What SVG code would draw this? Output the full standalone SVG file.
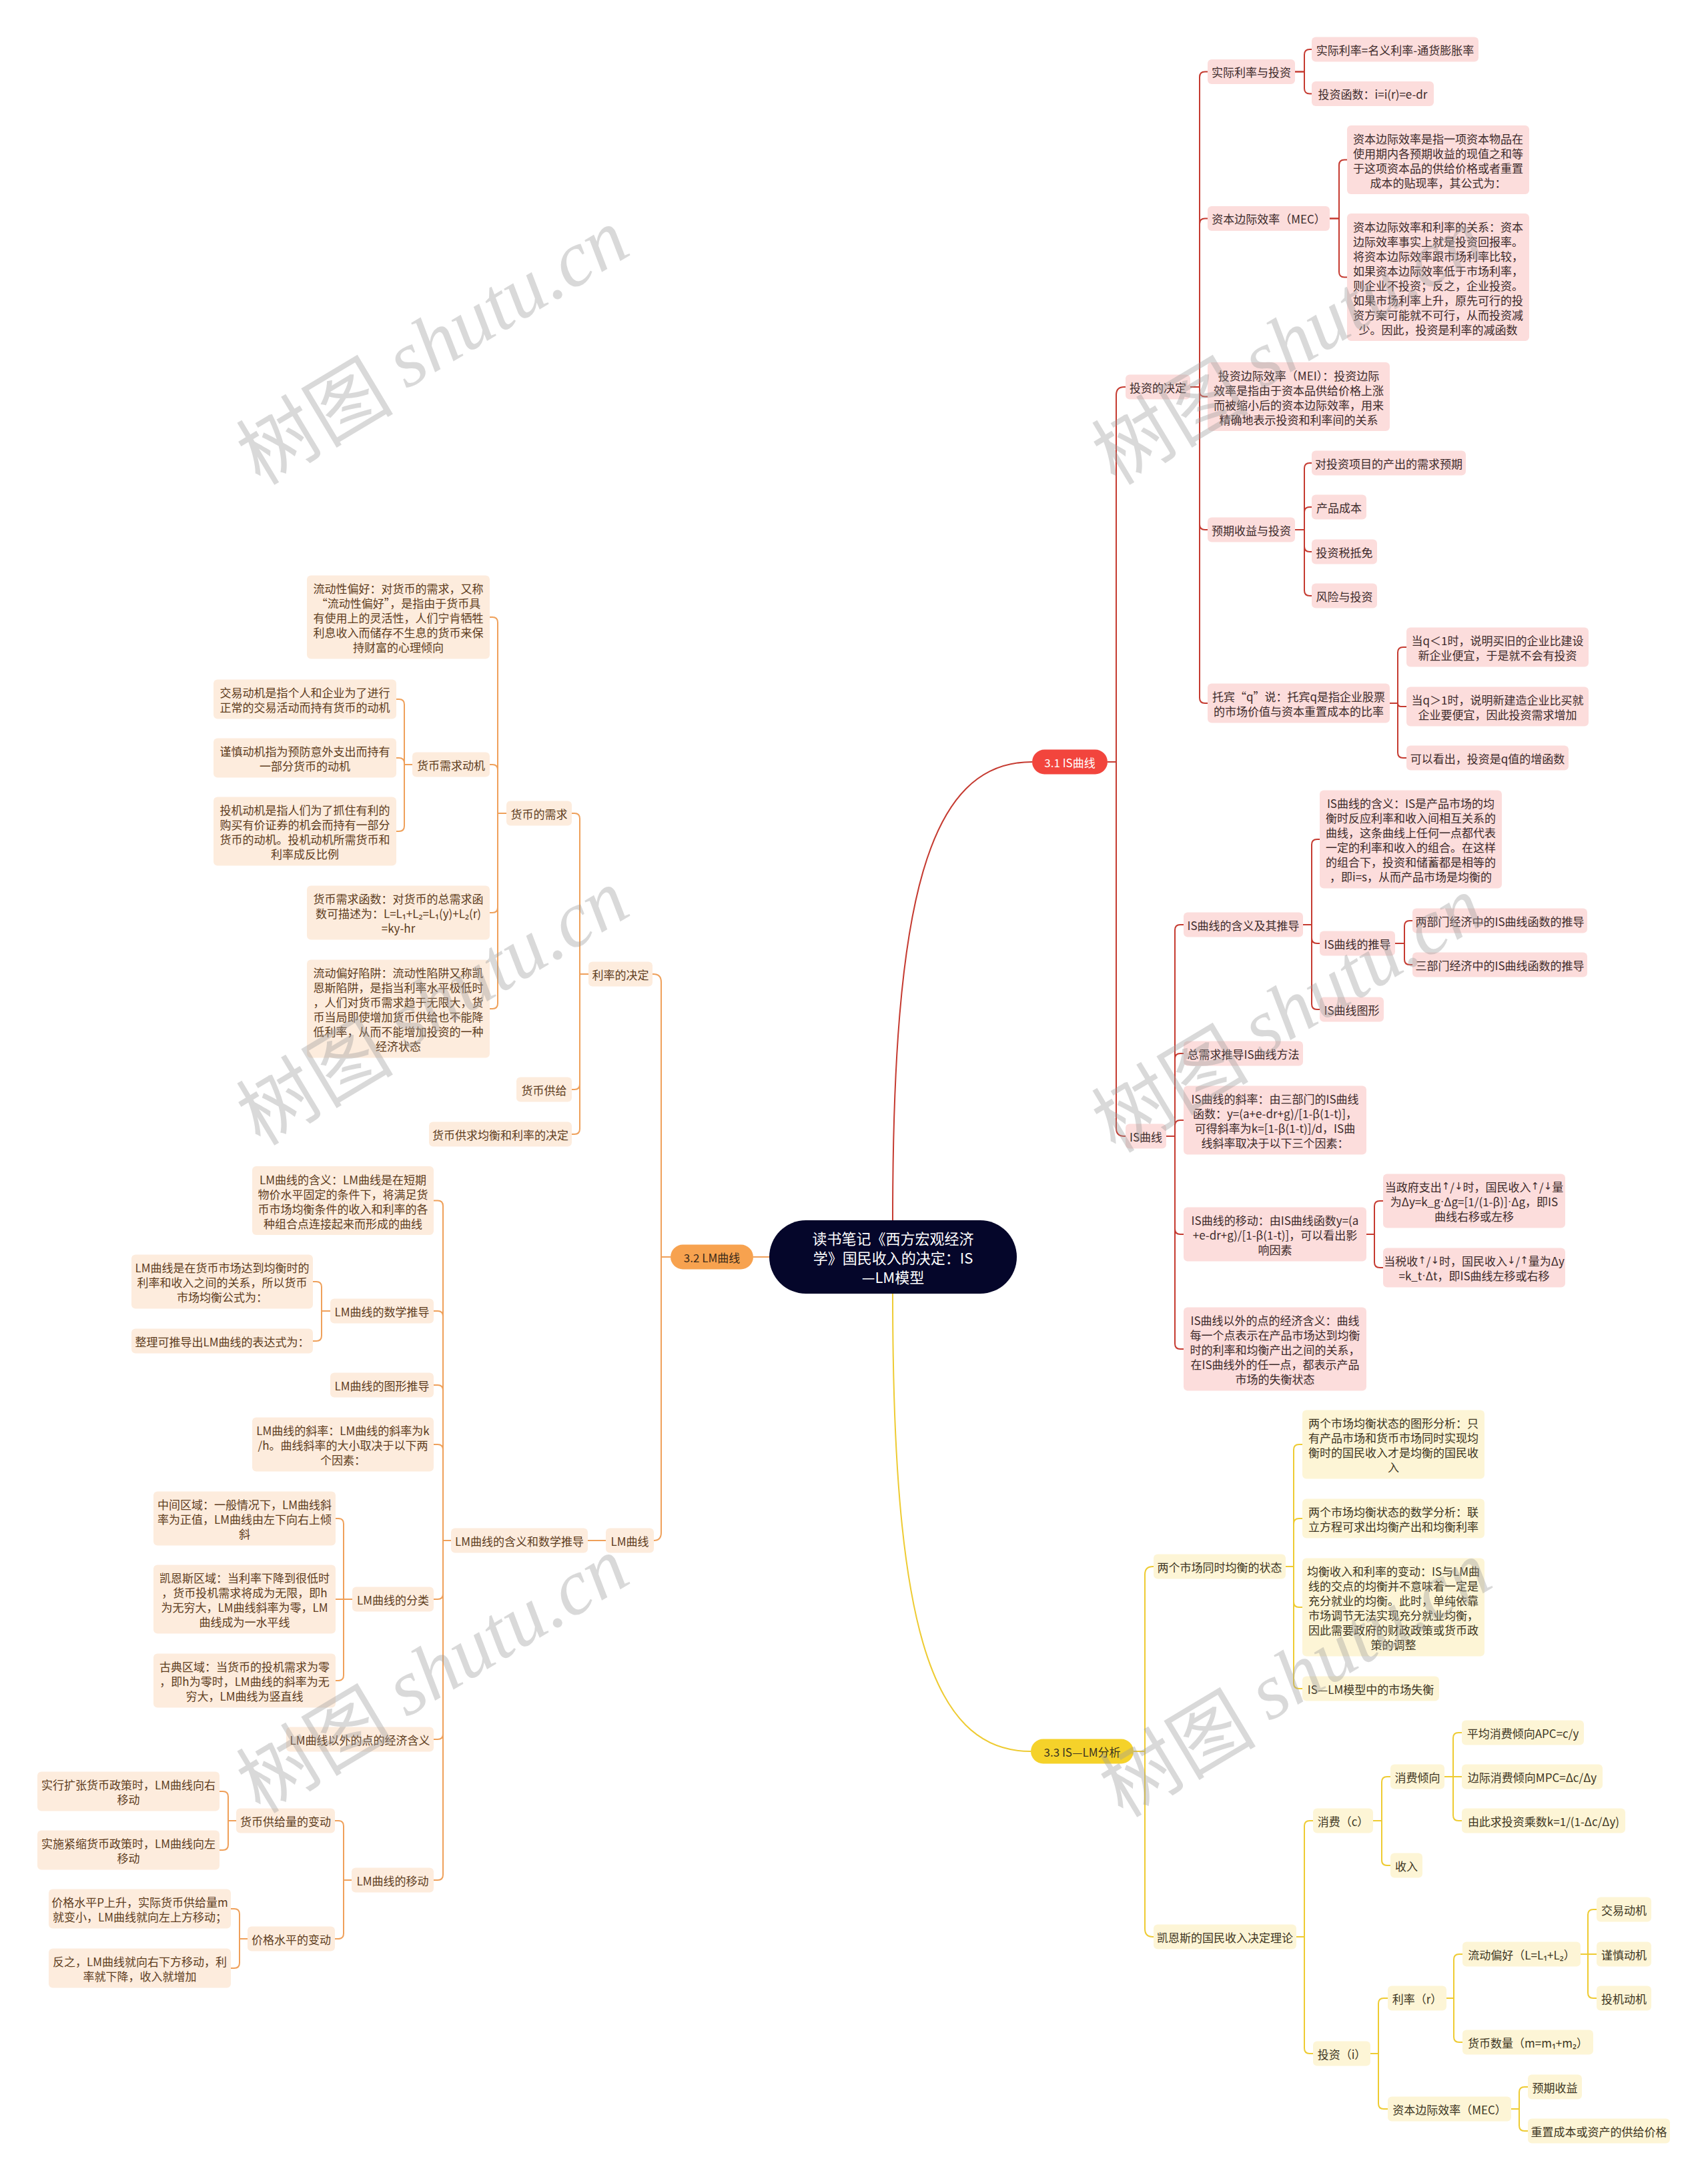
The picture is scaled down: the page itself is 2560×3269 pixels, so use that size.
<svg xmlns="http://www.w3.org/2000/svg" width="2560" height="3269" viewBox="0 0 2560 3269">
<style>
text{font-family:"Noto Sans CJK SC","Noto Sans",sans-serif;font-size:17px;dominant-baseline:central;text-anchor:middle}
.n{font-family:"Liberation Sans",sans-serif}
.a{font-family:"DejaVu Sans",sans-serif;font-size:15px}
.r rect{fill:#fcdddc}
.r text{fill:#3d2b2b}
.o rect{fill:#fdecdd}
.o text{fill:#5e3d1d}
.y rect{fill:#fdf5d6}
.y text{fill:#3d3522}
.lr{fill:none;stroke:#c53a30;stroke-width:2}
.lo{fill:none;stroke:#efa05a;stroke-width:2}
.ly{fill:none;stroke:#eecb32;stroke-width:2}
.wm{fill:#9a9a9a;fill-opacity:0.38;font-size:118px}
</style>
<rect width="2560" height="3269" fill="#ffffff"/>
<g id="connectors">
<g class="lr">
<path d="M1338 1829 C1338 1350 1390 1142 1547 1142"/>
<path d="M1660 1142 H1673 V592 Q1673 580 1685 580 H1687"/>
<path d="M1660 1142 H1673 V1691 Q1673 1703 1685 1703 H1687"/>
<path d="M1784 580 H1798 V115.5 Q1798 107.5 1806 107.5 H1810"/>
<path d="M1784 580 H1798 V335.5 Q1798 327.5 1806 327.5 H1810"/>
<path d="M1784 580 H1798 V586.5 Q1798 594.5 1806 594.5 H1810"/>
<path d="M1784 580 H1798 V786 Q1798 794 1806 794 H1810"/>
<path d="M1784 580 H1798 V1046 Q1798 1054 1806 1054 H1810"/>
<path d="M1941 107.5 H1955 V82 Q1955 74 1963 74 H1966"/>
<path d="M1941 107.5 H1955 V132.5 Q1955 140.5 1963 140.5 H1966"/>
<path d="M1993 327.5 H2007 V247.5 Q2007 239.5 2015 239.5 H2019"/>
<path d="M1993 327.5 H2007 V407.5 Q2007 415.5 2015 415.5 H2019"/>
<path d="M1941 794 H1955 V702 Q1955 694 1963 694 H1966"/>
<path d="M1941 794 H1955 V768 Q1955 760 1963 760 H1966"/>
<path d="M1941 794 H1955 V819 Q1955 827 1963 827 H1966"/>
<path d="M1941 794 H1955 V885 Q1955 893 1963 893 H1966"/>
<path d="M2083 1054 H2095 V978 Q2095 970 2103 970 H2108"/>
<path d="M2083 1054 H2095 Q2095 1059 2100 1059 H2108"/>
<path d="M2083 1054 H2095 V1128 Q2095 1136 2103 1136 H2108"/>
<path d="M1748 1703 H1761 V1394 Q1761 1386 1769 1386 H1774"/>
<path d="M1748 1703 H1761 V1587 Q1761 1579 1769 1579 H1774"/>
<path d="M1748 1703 H1761 V1687 Q1761 1679 1769 1679 H1774"/>
<path d="M1748 1703 H1761 V1842 Q1761 1850 1769 1850 H1774"/>
<path d="M1748 1703 H1761 V2014 Q1761 2022 1769 2022 H1774"/>
<path d="M1953 1386 H1966 V1266 Q1966 1258 1974 1258 H1978"/>
<path d="M1953 1386 H1966 V1406 Q1966 1414 1974 1414 H1978"/>
<path d="M1953 1386 H1966 V1505 Q1966 1513 1974 1513 H1978"/>
<path d="M2091 1414 H2105 V1388 Q2105 1380 2113 1380 H2117"/>
<path d="M2091 1414 H2105 V1438 Q2105 1446 2113 1446 H2117"/>
<path d="M2048 1850 H2060 V1808 Q2060 1800 2068 1800 H2073"/>
<path d="M2048 1850 H2060 V1892 Q2060 1900 2068 1900 H2073"/>
</g>
<g class="ly">
<path d="M1338 1939 C1338 2420 1390 2625 1545 2625"/>
<path d="M1699 2625 H1716 V2360 Q1716 2348 1728 2348 H1729"/>
<path d="M1699 2625 H1716 V2891 Q1716 2903 1728 2903 H1729"/>
<path d="M1927 2348 H1939 V2173 Q1939 2165 1947 2165 H1952"/>
<path d="M1927 2348 H1939 V2284 Q1939 2276 1947 2276 H1952"/>
<path d="M1927 2348 H1939 V2401 Q1939 2409 1947 2409 H1952"/>
<path d="M1927 2348 H1939 V2523 Q1939 2531 1947 2531 H1952"/>
<path d="M1943 2903 H1955 V2737 Q1955 2729 1963 2729 H1968"/>
<path d="M1943 2903 H1955 V3070 Q1955 3078 1963 3078 H1968"/>
<path d="M2058 2729 H2071 V2671 Q2071 2663 2079 2663 H2084"/>
<path d="M2058 2729 H2071 V2788 Q2071 2796 2079 2796 H2084"/>
<path d="M2165 2663 H2178 V2605 Q2178 2597 2186 2597 H2191"/>
<path d="M2165 2663 H2191"/>
<path d="M2165 2663 H2178 V2721 Q2178 2729 2186 2729 H2191"/>
<path d="M2054 3078 H2066 V3003 Q2066 2995 2074 2995 H2080"/>
<path d="M2054 3078 H2066 V3153 Q2066 3161 2074 3161 H2080"/>
<path d="M2168 2995 H2179 V2937 Q2179 2929 2187 2929 H2192"/>
<path d="M2168 2995 H2179 V3053 Q2179 3061 2187 3061 H2192"/>
<path d="M2369 2929 H2380 V2870 Q2380 2862 2388 2862 H2393"/>
<path d="M2369 2929 H2393"/>
<path d="M2369 2929 H2380 V2987 Q2380 2995 2388 2995 H2393"/>
<path d="M2265 3161 H2277 V3136 Q2277 3128 2285 3128 H2290"/>
<path d="M2265 3161 H2277 V3186 Q2277 3194 2285 3194 H2290"/>
</g>
<g class="lo">
<path d="M1153 1884 H1129"/>
<path d="M1005 1884 H991 V1472 Q991 1460 979 1460 H978"/>
<path d="M1005 1884 H991 V2297 Q991 2309 980 2309"/>
<path d="M882 1460 H869 V1227 Q869 1219 861 1219 H857"/>
<path d="M882 1460 H869 V1625 Q869 1633 861 1633 H857"/>
<path d="M882 1460 H869 V1692 Q869 1700 861 1700 H857"/>
<path d="M759 1219 H746 V933 Q746 925 738 925 H734"/>
<path d="M759 1219 H746 V1154 Q746 1146 738 1146 H734"/>
<path d="M759 1219 H746 V1360 Q746 1368 738 1368 H734"/>
<path d="M759 1219 H746 V1504 Q746 1512 738 1512 H734"/>
<path d="M618 1146 H606 V1056 Q606 1048 598 1048 H594"/>
<path d="M618 1146 H606 V1144 Q606 1136 598 1136 H594"/>
<path d="M618 1146 H606 V1238 Q606 1246 598 1246 H594"/>
<path d="M908 2309 H881"/>
<path d="M676 2309 H664 V1807.5 Q664 1799.5 656 1799.5 H650"/>
<path d="M676 2309 H664 V1973 Q664 1965 656 1965 H650"/>
<path d="M676 2309 H664 V2084 Q664 2076 656 2076 H650"/>
<path d="M676 2309 H664 V2173 Q664 2165 656 2165 H650"/>
<path d="M676 2309 H664 V2389 Q664 2397 656 2397 H650"/>
<path d="M676 2309 H664 V2599 Q664 2607 656 2607 H650"/>
<path d="M676 2309 H664 V2810 Q664 2818 656 2818 H650"/>
<path d="M495 1965 H482 V1929 Q482 1921 474 1921 H469"/>
<path d="M495 1965 H482 V2002 Q482 2010 474 2010 H469"/>
<path d="M528 2397 H515 V2284 Q515 2276 507 2276 H503"/>
<path d="M528 2397 H503"/>
<path d="M528 2397 H515 V2511 Q515 2519 507 2519 H503"/>
<path d="M527 2818 H515 V2737 Q515 2729 507 2729 H502"/>
<path d="M527 2818 H515 V2898 Q515 2906 507 2906 H502"/>
<path d="M354 2729 H342 V2693 Q342 2685 334 2685 H329"/>
<path d="M354 2729 H342 V2765 Q342 2773 334 2773 H329"/>
<path d="M371 2906 H359 V2869 Q359 2861 351 2861 H346"/>
<path d="M371 2906 H359 V2942 Q359 2950 351 2950 H346"/>
</g>
</g>

<g id="center"><rect x="1153" y="1829" width="371" height="110" rx="55" fill="#05062a"/>
<text fill="#ffffff" style="font-size:22px"><tspan x="1338.5" y="1854.5">读书笔记《西方宏观经济</tspan><tspan x="1338.5" y="1883.5">学》国民收入的决定：IS</tspan><tspan x="1338.5" y="1912.5">—LM模型</tspan></text></g>
<g id="b31"><rect x="1547" y="1123.5" width="113" height="37" rx="18.5" fill="#f2453d"/><text x="1603.5" y="1142" fill="#ffffff">3.1 IS曲线</text></g>
<g id="b32"><rect x="1005" y="1865.5" width="124" height="37" rx="18.5" fill="#f7a24f"/><text x="1067" y="1884" fill="#3a2a1a">3.2 LM曲线</text></g>
<g id="b33"><rect x="1545" y="2606.5" width="154" height="37" rx="18.5" fill="#f5d22a"/><text x="1622" y="2625" fill="#3a3320">3.3 IS—LM分析</text></g>

<g class="r">
<g id="n_invest"><rect x="1687" y="561.5" width="97" height="37" rx="6"/><text x="1735.5" y="580">投资的决定</text></g>
<g id="n_real"><rect x="1810" y="89" width="131" height="37" rx="6"/><text x="1875.5" y="107.5">实际利率与投资</text></g>
<g id="n_real1"><rect x="1966" y="55.5" width="250" height="37" rx="6"/><text x="2091" y="74">实际利率=名义利率-通货膨胀率</text></g>
<g id="n_real2"><rect x="1966" y="122" width="183" height="37" rx="6"/><text x="2057.5" y="140.5">投资函数：i=i(r)=e-dr</text></g>
<g id="n_mec"><rect x="1810" y="309" width="183" height="37" rx="6"/><text x="1901.5" y="327.5">资本边际效率（MEC）</text></g>
<g id="n_mec1"><rect x="2019" y="188" width="273" height="103" rx="6"/><text><tspan x="2155.5" y="206.5">资本边际效率是指一项资本物品在</tspan><tspan x="2155.5" y="228.5">使用期内各预期收益的现值之和等</tspan><tspan x="2155.5" y="250.5">于这项资本品的供给价格或者重置</tspan><tspan x="2155.5" y="272.5">成本的贴现率，其公式为：</tspan></text></g>
<g id="n_mec2"><rect x="2019" y="320" width="273" height="191" rx="6"/><text><tspan x="2155.5" y="338.5">资本边际效率和利率的关系：资本</tspan><tspan x="2155.5" y="360.5">边际效率事实上就是投资回报率。</tspan><tspan x="2155.5" y="382.5">将资本边际效率跟市场利率比较，</tspan><tspan x="2155.5" y="404.5">如果资本边际效率低于市场利率，</tspan><tspan x="2155.5" y="426.5">则企业不投资；反之，企业投资。</tspan><tspan x="2155.5" y="448.5">如果市场利率上升，原先可行的投</tspan><tspan x="2155.5" y="470.5">资方案可能就不可行，从而投资减</tspan><tspan x="2155.5" y="492.5">少。因此，投资是利率的减函数</tspan></text></g>
<g id="n_mei"><rect x="1810" y="543" width="273" height="103" rx="6"/><text><tspan x="1946.5" y="561.5">投资边际效率（MEI）：投资边际</tspan><tspan x="1946.5" y="583.5">效率是指由于资本品供给价格上涨</tspan><tspan x="1946.5" y="605.5">而被缩小后的资本边际效率，用来</tspan><tspan x="1946.5" y="627.5">精确地表示投资和利率间的关系</tspan></text></g>
<g id="n_exp"><rect x="1810" y="775.5" width="131" height="37" rx="6"/><text x="1875.5" y="794">预期收益与投资</text></g>
<g id="n_exp1"><rect x="1966" y="675.5" width="231" height="37" rx="6"/><text x="2081.5" y="694">对投资项目的产出的需求预期</text></g>
<g id="n_exp2"><rect x="1966" y="741.5" width="82" height="37" rx="6"/><text x="2007" y="760">产品成本</text></g>
<g id="n_exp3"><rect x="1966" y="808.5" width="98" height="37" rx="6"/><text x="2015" y="827">投资税抵免</text></g>
<g id="n_exp4"><rect x="1966" y="874.5" width="98" height="37" rx="6"/><text x="2015" y="893">风险与投资</text></g>
<g id="n_tobin"><rect x="1810" y="1024.5" width="273" height="59" rx="6"/><text><tspan x="1946.5" y="1043">托宾“q”说：托宾q是指企业股票</tspan><tspan x="1946.5" y="1065">的市场价值与资本重置成本的比率</tspan></text></g>
<g id="n_q1"><rect x="2108" y="940.5" width="273" height="59" rx="6"/><text><tspan x="2244.5" y="959">当q＜1时，说明买旧的企业比建设</tspan><tspan x="2244.5" y="981">新企业便宜，于是就不会有投资</tspan></text></g>
<g id="n_q2"><rect x="2108" y="1029.5" width="273" height="59" rx="6"/><text><tspan x="2244.5" y="1048">当q＞1时，说明新建造企业比买就</tspan><tspan x="2244.5" y="1070">企业要便宜，因此投资需求增加</tspan></text></g>
<g id="n_q3"><rect x="2108" y="1117.5" width="243" height="37" rx="6"/><text x="2229.5" y="1136">可以看出，投资是q值的增函数</text></g>
<g id="n_is"><rect x="1687" y="1684.5" width="61" height="37" rx="6"/><text x="1717.5" y="1703">IS曲线</text></g>
<g id="n_is_a"><rect x="1774" y="1367.5" width="179" height="37" rx="6"/><text x="1863.5" y="1386">IS曲线的含义及其推导</text></g>
<g id="n_is_a1"><rect x="1978" y="1184.5" width="273" height="147" rx="6"/><text><tspan x="2114.5" y="1203">IS曲线的含义：IS是产品市场的均</tspan><tspan x="2114.5" y="1225">衡时反应利率和收入间相互关系的</tspan><tspan x="2114.5" y="1247">曲线，这条曲线上任何一点都代表</tspan><tspan x="2114.5" y="1269">一定的利率和收入的组合。在这样</tspan><tspan x="2114.5" y="1291">的组合下，投资和储蓄都是相等的</tspan><tspan x="2114.5" y="1313">，即i=s，从而产品市场是均衡的</tspan></text></g>
<g id="n_is_a2"><rect x="1978" y="1395.5" width="113" height="37" rx="6"/><text x="2034.5" y="1414">IS曲线的推导</text></g>
<g id="n_is_a2a"><rect x="2117" y="1361.5" width="262" height="37" rx="6"/><text x="2248" y="1380">两部门经济中的IS曲线函数的推导</text></g>
<g id="n_is_a2b"><rect x="2117" y="1427.5" width="262" height="37" rx="6"/><text x="2248" y="1446">三部门经济中的IS曲线函数的推导</text></g>
<g id="n_is_a3"><rect x="1978" y="1494.5" width="96" height="37" rx="6"/><text x="2026" y="1513">IS曲线图形</text></g>
<g id="n_is_b"><rect x="1774" y="1560.5" width="179" height="37" rx="6"/><text x="1863.5" y="1579">总需求推导IS曲线方法</text></g>
<g id="n_is_c"><rect x="1774" y="1627.5" width="274" height="103" rx="6"/><text><tspan x="1911" y="1646">IS曲线的斜率：由三部门的IS曲线</tspan><tspan x="1911" y="1668">函数：y=(a+e-dr+g)/[1-β(1-t)]，</tspan><tspan x="1911" y="1690">可得斜率为k=[1-β(1-t)]/d，IS曲</tspan><tspan x="1911" y="1712">线斜率取决于以下三个因素：</tspan></text></g>
<g id="n_is_d"><rect x="1774" y="1809.5" width="274" height="81" rx="6"/><text><tspan x="1911" y="1828">IS曲线的移动：由IS曲线函数y=(a</tspan><tspan x="1911" y="1850">+e-dr+g)/[1-β(1-t)]，可以看出影</tspan><tspan x="1911" y="1872">响因素</tspan></text></g>
<g id="n_is_d1"><rect x="2073" y="1759.5" width="273" height="81" rx="6"/><text><tspan x="2209.5" y="1778">当政府支出<tspan class="a">↑</tspan>/<tspan class="a">↓</tspan>时，国民收入<tspan class="a">↑</tspan>/<tspan class="a">↓</tspan>量</tspan><tspan x="2209.5" y="1800">为Δy=k_g<tspan class="n">·</tspan>Δg=[1/(1-β)]<tspan class="n">·</tspan>Δg，即IS</tspan><tspan x="2209.5" y="1822">曲线右移或左移</tspan></text></g>
<g id="n_is_d2"><rect x="2073" y="1870.5" width="273" height="59" rx="6"/><text><tspan x="2209.5" y="1889">当税收<tspan class="a">↑</tspan>/<tspan class="a">↓</tspan>时，国民收入<tspan class="a">↓</tspan>/<tspan class="a">↑</tspan>量为Δy</tspan><tspan x="2209.5" y="1911">=k_t<tspan class="n">·</tspan>Δt，即IS曲线左移或右移</tspan></text></g>
<g id="n_is_e"><rect x="1774" y="1959.5" width="274" height="125" rx="6"/><text><tspan x="1911" y="1978">IS曲线以外的点的经济含义：曲线</tspan><tspan x="1911" y="2000">每一个点表示在产品市场达到均衡</tspan><tspan x="1911" y="2022">时的利率和均衡产出之间的关系，</tspan><tspan x="1911" y="2044">在IS曲线外的任一点，都表示产品</tspan><tspan x="1911" y="2066">市场的失衡状态</tspan></text></g>
</g>

<g class="y">
<g id="n_two"><rect x="1729" y="2329.5" width="198" height="37" rx="6"/><text x="1828" y="2348">两个市场同时均衡的状态</text></g>
<g id="n_two1"><rect x="1952" y="2113.5" width="273" height="103" rx="6"/><text><tspan x="2088.5" y="2132">两个市场均衡状态的图形分析：只</tspan><tspan x="2088.5" y="2154">有产品市场和货币市场同时实现均</tspan><tspan x="2088.5" y="2176">衡时的国民收入才是均衡的国民收</tspan><tspan x="2088.5" y="2198">入</tspan></text></g>
<g id="n_two2"><rect x="1952" y="2246.5" width="273" height="59" rx="6"/><text><tspan x="2088.5" y="2265">两个市场均衡状态的数学分析：联</tspan><tspan x="2088.5" y="2287">立方程可求出均衡产出和均衡利率</tspan></text></g>
<g id="n_two3"><rect x="1952" y="2335.5" width="273" height="147" rx="6"/><text><tspan x="2088.5" y="2354">均衡收入和利率的变动：IS与LM曲</tspan><tspan x="2088.5" y="2376">线的交点的均衡并不意味着一定是</tspan><tspan x="2088.5" y="2398">充分就业的均衡。此时，单纯依靠</tspan><tspan x="2088.5" y="2420">市场调节无法实现充分就业均衡，</tspan><tspan x="2088.5" y="2442">因此需要政府的财政政策或货币政</tspan><tspan x="2088.5" y="2464">策的调整</tspan></text></g>
<g id="n_two4"><rect x="1952" y="2512.5" width="205" height="37" rx="6"/><text x="2054.5" y="2531">IS—LM模型中的市场失衡</text></g>
<g id="n_keynes"><rect x="1729" y="2884.5" width="214" height="37" rx="6"/><text x="1836" y="2903">凯恩斯的国民收入决定理论</text></g>
<g id="n_cons"><rect x="1968" y="2710.5" width="90" height="37" rx="6"/><text x="2013" y="2729">消费（c）</text></g>
<g id="n_cons1"><rect x="2084" y="2644.5" width="81" height="37" rx="6"/><text x="2124.5" y="2663">消费倾向</text></g>
<g id="n_apc"><rect x="2191" y="2578.5" width="183" height="37" rx="6"/><text x="2282.5" y="2597">平均消费倾向APC=c/y</text></g>
<g id="n_mpc"><rect x="2191" y="2644.5" width="211" height="37" rx="6"/><text x="2296.5" y="2663">边际消费倾向MPC=Δc/Δy</text></g>
<g id="n_k"><rect x="2191" y="2710.5" width="245" height="37" rx="6"/><text x="2313.5" y="2729">由此求投资乘数k=1/(1-Δc/Δy)</text></g>
<g id="n_inc"><rect x="2084" y="2777.5" width="48" height="37" rx="6"/><text x="2108" y="2796">收入</text></g>
<g id="n_inv"><rect x="1968" y="3059.5" width="86" height="37" rx="6"/><text x="2011" y="3078">投资（i）</text></g>
<g id="n_rate"><rect x="2080" y="2976.5" width="88" height="37" rx="6"/><text x="2124" y="2995">利率（r）</text></g>
<g id="n_lp"><rect x="2192" y="2910.5" width="177" height="37" rx="6"/><text x="2280.5" y="2929">流动偏好（L=L₁+L₂）</text></g>
<g id="n_m1"><rect x="2393" y="2843.5" width="82" height="37" rx="6"/><text x="2434" y="2862">交易动机</text></g>
<g id="n_m2"><rect x="2393" y="2910.5" width="82" height="37" rx="6"/><text x="2434" y="2929">谨慎动机</text></g>
<g id="n_m3"><rect x="2393" y="2976.5" width="82" height="37" rx="6"/><text x="2434" y="2995">投机动机</text></g>
<g id="n_ms"><rect x="2192" y="3042.5" width="196" height="37" rx="6"/><text x="2290" y="3061">货币数量（m=m₁+m₂）</text></g>
<g id="n_mec3"><rect x="2080" y="3142.5" width="185" height="37" rx="6"/><text x="2172.5" y="3161">资本边际效率（MEC）</text></g>
<g id="n_er"><rect x="2290" y="3109.5" width="81" height="37" rx="6"/><text x="2330.5" y="3128">预期收益</text></g>
<g id="n_rc"><rect x="2290" y="3175.5" width="213" height="37" rx="6"/><text x="2396.5" y="3194">重置成本或资产的供给价格</text></g>
</g>

<g class="o">
<g id="n_rd"><rect x="882" y="1441.5" width="96" height="37" rx="6"/><text x="930" y="1460">利率的决定</text></g>
<g id="n_md"><rect x="759" y="1200.5" width="98" height="37" rx="6"/><text x="808" y="1219">货币的需求</text></g>
<g id="n_lpref"><rect x="460" y="862.5" width="274" height="125" rx="6"/><text><tspan x="597" y="881">流动性偏好：对货币的需求，又称</tspan><tspan x="597" y="903">“流动性偏好”，是指由于货币具</tspan><tspan x="597" y="925">有使用上的灵活性，人们宁肯牺牲</tspan><tspan x="597" y="947">利息收入而储存不生息的货币来保</tspan><tspan x="597" y="969">持财富的心理倾向</tspan></text></g>
<g id="n_mdm"><rect x="618" y="1127.5" width="116" height="37" rx="6"/><text x="676" y="1146">货币需求动机</text></g>
<g id="n_tm"><rect x="320" y="1018.5" width="274" height="59" rx="6"/><text><tspan x="457" y="1037">交易动机是指个人和企业为了进行</tspan><tspan x="457" y="1059">正常的交易活动而持有货币的动机</tspan></text></g>
<g id="n_pm"><rect x="320" y="1106.5" width="274" height="59" rx="6"/><text><tspan x="457" y="1125">谨慎动机指为预防意外支出而持有</tspan><tspan x="457" y="1147">一部分货币的动机</tspan></text></g>
<g id="n_sm"><rect x="320" y="1194.5" width="274" height="103" rx="6"/><text><tspan x="457" y="1213">投机动机是指人们为了抓住有利的</tspan><tspan x="457" y="1235">购买有价证券的机会而持有一部分</tspan><tspan x="457" y="1257">货币的动机。投机动机所需货币和</tspan><tspan x="457" y="1279">利率成反比例</tspan></text></g>
<g id="n_mdf"><rect x="460" y="1327.5" width="274" height="81" rx="6"/><text><tspan x="597" y="1346">货币需求函数：对货币的总需求函</tspan><tspan x="597" y="1368">数可描述为：L=L₁+L₂=L₁(y)+L₂(r)</tspan><tspan x="597" y="1390">=ky-hr</tspan></text></g>
<g id="n_trap"><rect x="460" y="1438.5" width="274" height="147" rx="6"/><text><tspan x="597" y="1457">流动偏好陷阱：流动性陷阱又称凯</tspan><tspan x="597" y="1479">恩斯陷阱，是指当利率水平极低时</tspan><tspan x="597" y="1501">，人们对货币需求趋于无限大，货</tspan><tspan x="597" y="1523">币当局即使增加货币供给也不能降</tspan><tspan x="597" y="1545">低利率，从而不能增加投资的一种</tspan><tspan x="597" y="1567">经济状态</tspan></text></g>
<g id="n_ms2"><rect x="774" y="1614.5" width="83" height="37" rx="6"/><text x="815.5" y="1633">货币供给</text></g>
<g id="n_eq"><rect x="643" y="1681.5" width="214" height="37" rx="6"/><text x="750" y="1700">货币供求均衡和利率的决定</text></g>
<g id="n_lm"><rect x="908" y="2290.5" width="72" height="37" rx="6"/><text x="944" y="2309">LM曲线</text></g>
<g id="n_lm_a"><rect x="676" y="2290.5" width="205" height="37" rx="6"/><text x="778.5" y="2309">LM曲线的含义和数学推导</text></g>
<g id="n_lm1"><rect x="378" y="1748" width="272" height="103" rx="6"/><text><tspan x="514" y="1766.5">LM曲线的含义：LM曲线是在短期</tspan><tspan x="514" y="1788.5">物价水平固定的条件下，将满足货</tspan><tspan x="514" y="1810.5">币市场均衡条件的收入和利率的各</tspan><tspan x="514" y="1832.5">种组合点连接起来而形成的曲线</tspan></text></g>
<g id="n_lm2"><rect x="495" y="1946.5" width="155" height="37" rx="6"/><text x="572.5" y="1965">LM曲线的数学推导</text></g>
<g id="n_lm2a"><rect x="197" y="1880.5" width="272" height="81" rx="6"/><text><tspan x="333" y="1899">LM曲线是在货币市场达到均衡时的</tspan><tspan x="333" y="1921">利率和收入之间的关系，所以货币</tspan><tspan x="333" y="1943">市场均衡公式为：</tspan></text></g>
<g id="n_lm2b"><rect x="197" y="1991.5" width="272" height="37" rx="6"/><text x="333" y="2010">整理可推导出LM曲线的表达式为：</text></g>
<g id="n_lm3"><rect x="495" y="2057.5" width="155" height="37" rx="6"/><text x="572.5" y="2076">LM曲线的图形推导</text></g>
<g id="n_lm4"><rect x="378" y="2124.5" width="272" height="81" rx="6"/><text><tspan x="514" y="2143">LM曲线的斜率：LM曲线的斜率为k</tspan><tspan x="514" y="2165">/h。曲线斜率的大小取决于以下两</tspan><tspan x="514" y="2187">个因素：</tspan></text></g>
<g id="n_lm5"><rect x="528" y="2378.5" width="122" height="37" rx="6"/><text x="589" y="2397">LM曲线的分类</text></g>
<g id="n_lm5a"><rect x="230" y="2235.5" width="273" height="81" rx="6"/><text><tspan x="366.5" y="2254">中间区域：一般情况下，LM曲线斜</tspan><tspan x="366.5" y="2276">率为正值，LM曲线由左下向右上倾</tspan><tspan x="366.5" y="2298">斜</tspan></text></g>
<g id="n_lm5b"><rect x="230" y="2345.5" width="273" height="103" rx="6"/><text><tspan x="366.5" y="2364">凯恩斯区域：当利率下降到很低时</tspan><tspan x="366.5" y="2386">，货币投机需求将成为无限，即h</tspan><tspan x="366.5" y="2408">为无穷大，LM曲线斜率为零，LM</tspan><tspan x="366.5" y="2430">曲线成为一水平线</tspan></text></g>
<g id="n_lm5c"><rect x="230" y="2478.5" width="273" height="81" rx="6"/><text><tspan x="366.5" y="2497">古典区域：当货币的投机需求为零</tspan><tspan x="366.5" y="2519">，即h为零时，LM曲线的斜率为无</tspan><tspan x="366.5" y="2541">穷大，LM曲线为竖直线</tspan></text></g>
<g id="n_lm6"><rect x="429" y="2588.5" width="221" height="37" rx="6"/><text x="539.5" y="2607">LM曲线以外的点的经济含义</text></g>
<g id="n_lm7"><rect x="527" y="2799.5" width="123" height="37" rx="6"/><text x="588.5" y="2818">LM曲线的移动</text></g>
<g id="n_lm7a"><rect x="354" y="2710.5" width="148" height="37" rx="6"/><text x="428" y="2729">货币供给量的变动</text></g>
<g id="n_lm7a1"><rect x="56" y="2655.5" width="273" height="59" rx="6"/><text><tspan x="192.5" y="2674">实行扩张货币政策时，LM曲线向右</tspan><tspan x="192.5" y="2696">移动</tspan></text></g>
<g id="n_lm7a2"><rect x="56" y="2743.5" width="273" height="59" rx="6"/><text><tspan x="192.5" y="2762">实施紧缩货币政策时，LM曲线向左</tspan><tspan x="192.5" y="2784">移动</tspan></text></g>
<g id="n_lm7b"><rect x="371" y="2887.5" width="131" height="37" rx="6"/><text x="436.5" y="2906">价格水平的变动</text></g>
<g id="n_lm7b1"><rect x="73" y="2831.5" width="273" height="59" rx="6"/><text><tspan x="209.5" y="2850">价格水平P上升，实际货币供给量m</tspan><tspan x="209.5" y="2872">就变小，LM曲线就向左上方移动；</tspan></text></g>
<g id="n_lm7b2"><rect x="73" y="2920.5" width="273" height="59" rx="6"/><text><tspan x="209.5" y="2939">反之，LM曲线就向右下方移动，利</tspan><tspan x="209.5" y="2961">率就下降，收入就增加</tspan></text></g>
</g>

<g id="watermark">
<text class="wm" transform="translate(646 515) rotate(-31)">树图 <tspan style="font-family:'Liberation Serif',serif;font-style:italic">shutu.cn</tspan></text>
<text class="wm" transform="translate(646 1505) rotate(-31)">树图 <tspan style="font-family:'Liberation Serif',serif;font-style:italic">shutu.cn</tspan></text>
<text class="wm" transform="translate(646 2506) rotate(-31)">树图 <tspan style="font-family:'Liberation Serif',serif;font-style:italic">shutu.cn</tspan></text>
<text class="wm" transform="translate(1928 515) rotate(-31)">树图 <tspan style="font-family:'Liberation Serif',serif;font-style:italic">shutu.cn</tspan></text>
<text class="wm" transform="translate(1928 1516) rotate(-31)">树图 <tspan style="font-family:'Liberation Serif',serif;font-style:italic">shutu.cn</tspan></text>
<text class="wm" transform="translate(1939 2512) rotate(-31)">树图 <tspan style="font-family:'Liberation Serif',serif;font-style:italic">shutu.cn</tspan></text>
</g>
</svg>
